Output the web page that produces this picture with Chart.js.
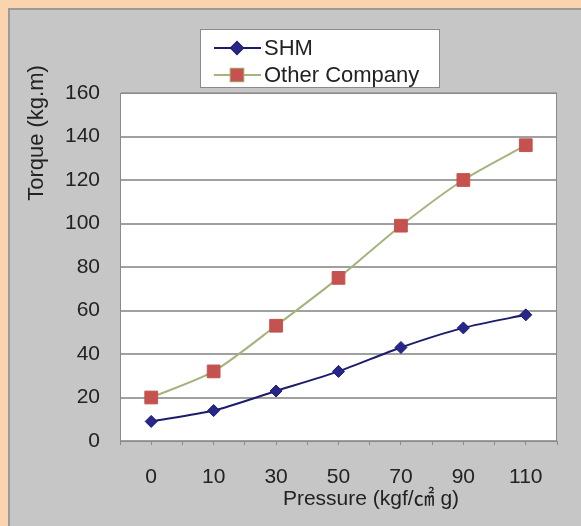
<!DOCTYPE html>
<html>
<head>
<meta charset="utf-8">
<script src="https://cdn.jsdelivr.net/npm/chart.js@4"></script>
<style>
  html, body { margin: 0; padding: 0; background: #FAD4AE; }
  #wrap { width: 581px; height: 526px; position: relative; }
</style>
</head>
<body>
<div id="wrap"><canvas id="c" width="581" height="526"></canvas></div>
<script>
const categories = ['0', '10', '30', '50', '70', '90', '110'];
const shmValues = [9, 14, 23, 32, 43, 52, 58];
const otherValues = [20, 32, 53, 75, 99, 120, 136];
const seriesNames = ['SHM', 'Other Company'];
const yMin = 0, yMax = 160, yStep = 20;
const xTitle = 'Pressure (kgf/\u33A0 g)';
const yTitle = 'Torque (kg.m)';

const FONT = '"Liberation Sans", Arial, "Noto Sans CJK JP", sans-serif';

const toPoints = vals => vals.map((v, i) => ({ x: i, y: v }));

const bgPlugin = {
  id: 'bg',
  beforeDraw(chart) {
    const ctx = chart.ctx;
    ctx.save();
    ctx.fillStyle = '#FAD4AE';
    ctx.fillRect(0, 0, chart.width, chart.height);
    ctx.fillStyle = '#C6C6C6';
    ctx.fillRect(8, 8, chart.width - 8, chart.height - 8);
    ctx.fillStyle = '#9A9A9A';
    ctx.fillRect(8, 8, chart.width - 8, 2);
    ctx.fillRect(8, 8, 2, chart.height - 8);
    const a = chart.chartArea;
    ctx.fillStyle = '#FFFFFF';
    ctx.fillRect(a.left, a.top, a.right - a.left, a.bottom - a.top);
    ctx.restore();
  },
  beforeDatasetsDraw(chart) {
    const ctx = chart.ctx, a = chart.chartArea;
    ctx.save();
    ctx.strokeStyle = '#8A8A8A';
    ctx.lineWidth = 1;
    ctx.strokeRect(a.left + 0.5, a.top + 0.5, a.right - a.left - 1, a.bottom - a.top);
    ctx.restore();
  }
};

const textPlugin = {
  id: 'texts',
  afterDraw(chart) {
    const ctx = chart.ctx;
    ctx.save();
    ctx.fillStyle = '#222222';
    ctx.textAlign = 'center';
    ctx.textBaseline = 'middle';
    // y title
    ctx.save();
    ctx.font = '22px ' + FONT;
    ctx.translate(37, 133);
    ctx.rotate(-Math.PI / 2);
    ctx.fillText(yTitle, 0, 0);
    ctx.restore();
    // x title
    ctx.font = '21px ' + FONT;
    ctx.fillText(xTitle, 371, 499);

    // legend box
    const lx = 200, ly = 29, lw = 240, lh = 59;
    ctx.fillStyle = '#FFFFFF';
    ctx.fillRect(lx, ly, lw, lh);
    ctx.strokeStyle = '#8A8A8A';
    ctx.lineWidth = 1;
    ctx.strokeRect(lx + 0.5, ly + 0.5, lw - 1, lh - 1);
    const rows = [48, 75];
    chart.data.datasets.forEach((ds, i) => {
      const y = rows[i];
      ctx.strokeStyle = ds.borderColor;
      ctx.lineWidth = 2;
      ctx.beginPath();
      ctx.moveTo(214, y);
      ctx.lineTo(261, y);
      ctx.stroke();
      Chart.helpers.drawPoint(ctx, {
        pointStyle: ds.pointStyle,
        radius: ds.pointRadius,
        rotation: 0,
        borderWidth: 1
      }, 237, y);
      ctx.fillStyle = ds.pointBackgroundColor;
      ctx.strokeStyle = ds.pointBorderColor;
      ctx.fill();
      ctx.fillStyle = '#222222';
      ctx.font = '22px ' + FONT;
      ctx.textAlign = 'left';
      ctx.fillText(ds.label, 264, y + 1);
    });
    ctx.restore();
  }
};

new Chart(document.getElementById('c'), {
  type: 'line',
  data: {
    datasets: [
      {
        label: seriesNames[0],
        data: toPoints(shmValues),
        borderColor: '#1C1C6E',
        borderWidth: 2,
        pointStyle: 'rectRot',
        pointRadius: 6,
        pointBackgroundColor: '#27278A',
        pointBorderColor: '#1C1C6E',
        pointBorderWidth: 1,
        tension: 0.25
      },
      {
        label: seriesNames[1],
        data: toPoints(otherValues),
        borderColor: '#A3B47C',
        borderWidth: 2,
        pointStyle: 'rect',
        pointRadius: 9,
        pointBackgroundColor: '#C5524E',
        pointBorderColor: '#C5524E',
        pointBorderWidth: 1,
        tension: 0.25
      }
    ]
  },
  options: {
    responsive: false,
    animation: false,
    devicePixelRatio: 1,
    layout: { padding: { top: 93, right: 24, left: 0, bottom: 0 } },
    plugins: {
      legend: { display: false },
      title: { display: false },
      tooltip: { enabled: false }
    },
    scales: {
      x: {
        type: 'linear',
        min: -0.5,
        max: categories.length - 0.5,
        afterFit(s) { s.height = 85; },
        ticks: {
          stepSize: 0.5,
          autoSkip: false,
          maxRotation: 0,
          padding: 20,
          color: '#222222',
          font: { family: FONT, size: 21 },
          callback(v) {
            const r = Math.round(v);
            return Math.abs(v - r) < 1e-6 ? categories[r] : '';
          }
        },
        grid: { drawOnChartArea: false, drawTicks: true, tickLength: 4, color: '#8A8A8A' },
        border: { color: '#8A8A8A' }
      },
      y: {
        min: yMin,
        max: yMax,
        afterFit(s) { s.width = 120; },
        ticks: {
          stepSize: yStep,
          padding: 20,
          color: '#222222',
          font: { family: FONT, size: 21 }
        },
        grid: { color: '#A0A0A0', lineWidth: 2, drawTicks: false },
        border: { color: '#8A8A8A' }
      }
    }
  },
  plugins: [bgPlugin, textPlugin]
});
</script>
</body>
</html>
